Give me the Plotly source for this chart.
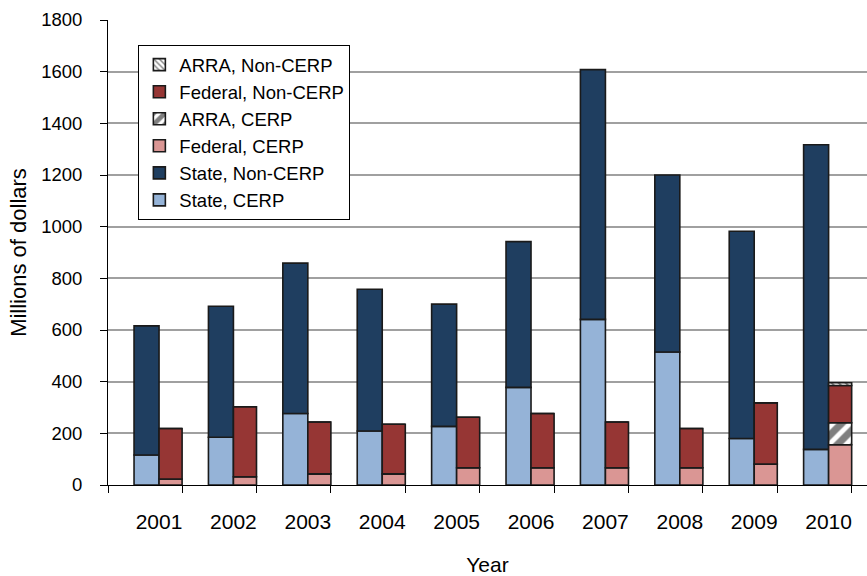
import plotly.graph_objects as go

years = ["2001", "2002", "2003", "2004", "2005", "2006", "2007", "2008", "2009", "2010"]
state_cerp = [116, 185, 277, 209, 227, 378, 641, 515, 180, 138]
state_noncerp = [500, 507, 582, 549, 473, 564, 967, 685, 802, 1179]
federal_cerp = [23, 32, 43, 43, 67, 67, 67, 67, 81, 156]
arra_cerp = [0, 0, 0, 0, 0, 0, 0, 0, 0, 85]
federal_noncerp = [196, 271, 201, 192, 195, 210, 177, 152, 237, 144]
arra_noncerp = [0, 0, 0, 0, 0, 0, 0, 0, 0, 11]

x = list(range(len(years)))
W_STATE = 0.336
W_FED = 0.31

def cum(*series):
    return [sum(v) for v in zip(*series)]

outline = dict(color="#1a1a1a", width=1.6)
fig = go.Figure()

fig.add_trace(go.Bar(x=x, y=state_cerp, base=[0]*len(x), width=W_STATE, offset=-W_STATE,
                     name="State, CERP", marker=dict(color="#95b3d7", line=outline)))
fig.add_trace(go.Bar(x=x, y=state_noncerp, base=state_cerp, width=W_STATE, offset=-W_STATE,
                     name="State, Non-CERP", marker=dict(color="#1f3e60", line=outline)))
fig.add_trace(go.Bar(x=x, y=federal_cerp, base=[0]*len(x), width=W_FED, offset=0,
                     name="Federal, CERP", marker=dict(color="#da9694", line=outline)))
fig.add_trace(go.Bar(x=x, y=arra_cerp, base=federal_cerp, width=W_FED, offset=0,
                     name="ARRA, CERP",
                     marker=dict(color="white", line=outline,
                                 pattern=dict(shape="/", fgcolor="black", bgcolor="white",
                                              size=12, solidity=0.6))))
fig.add_trace(go.Bar(x=x, y=federal_noncerp, base=cum(federal_cerp, arra_cerp), width=W_FED, offset=0,
                     name="Federal, Non-CERP", marker=dict(color="#963634", line=outline)))
fig.add_trace(go.Bar(x=x, y=arra_noncerp, base=cum(federal_cerp, arra_cerp, federal_noncerp),
                     width=W_FED, offset=0, name="ARRA, Non-CERP",
                     marker=dict(color="white", line=outline,
                                 pattern=dict(shape="\\", fgcolor="black", bgcolor="white",
                                              size=5, solidity=0.35))))

font = "Liberation Sans"
left_edge = -0.686
minor_ticks = [left_edge] + [i + W_FED for i in x]

fig.update_layout(
    width=867, height=576,
    margin=dict(l=108, r=0, t=20, b=91, autoexpand=False),
    barmode="overlay",
    plot_bgcolor="white", paper_bgcolor="white",
    font=dict(family=font, color="black"),
    showlegend=True,
    legend=dict(x=0.04, y=0.946, xanchor="left", yanchor="top",
                traceorder="reversed", bgcolor="white",
                bordercolor="black", borderwidth=1,
                font=dict(size=18.5, family=font), itemwidth=30,
                tracegroupgap=0),
    xaxis=dict(range=[left_edge, 9.516], tickmode="array", tickvals=x, ticktext=years,
               ticks="", showgrid=False, zeroline=False, automargin=False,
               showline=True, linecolor="black", linewidth=1,
               tickfont=dict(size=21, family=font),
               ticklabelstandoff=18,
               minor=dict(tickmode="array", tickvals=minor_ticks, ticks="outside",
                          ticklen=7, tickcolor="black", tickwidth=1, showgrid=False),
               title=dict(text="Year", font=dict(size=21), standoff=30)),
    yaxis=dict(range=[0, 1800], dtick=200, tick0=0, ticks="outside", ticklen=7,
               tickcolor="black", showline=True, linecolor="black", linewidth=1,
               showgrid=True, gridcolor="#a0a0a0", gridwidth=1.5, zeroline=False,
               automargin=False, ticklabelstandoff=14,
               tickfont=dict(size=18.5),
               title=dict(text="Millions of dollars", font=dict(size=22), standoff=8)),
)

fig.write_html("out.html", config={"displayModeBar": False},
               post_script="document.body.style.margin='0';document.body.style.overflow='hidden';")
